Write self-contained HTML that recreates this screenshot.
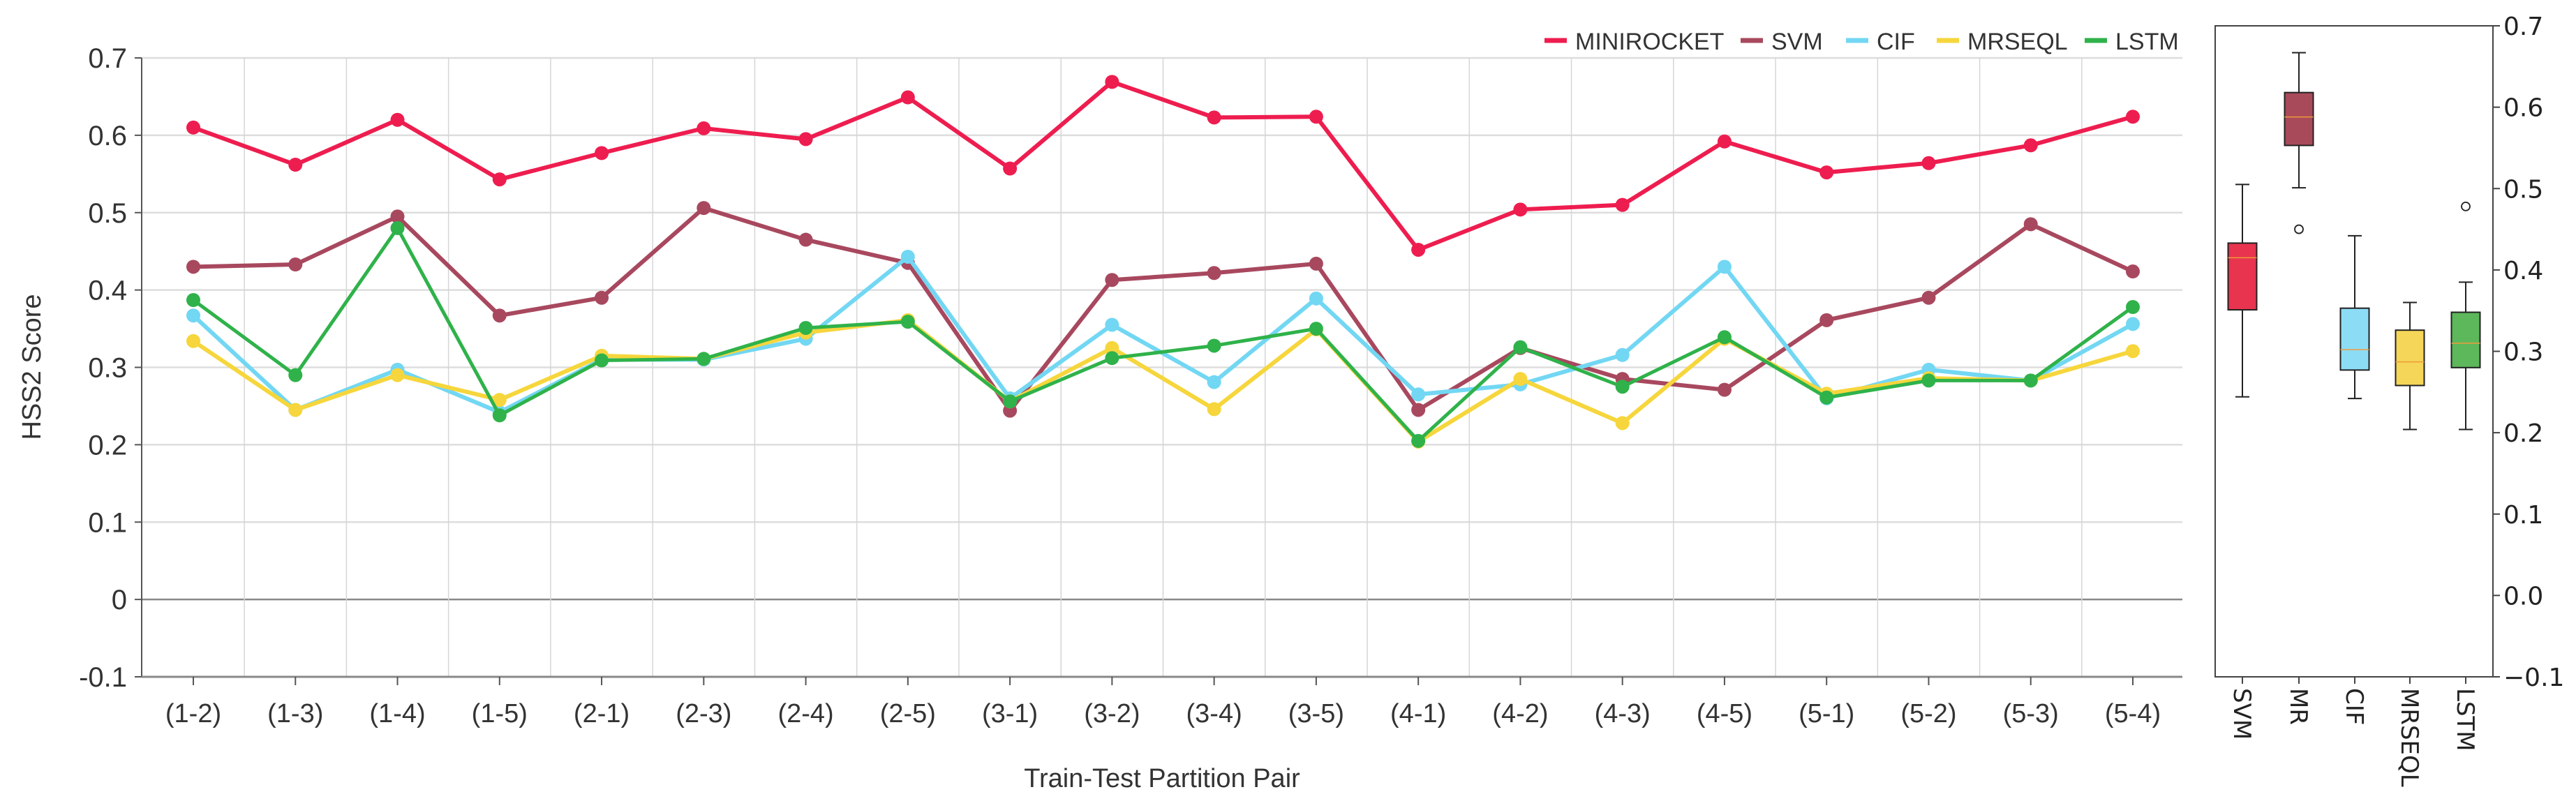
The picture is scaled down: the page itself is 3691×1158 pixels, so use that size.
<!DOCTYPE html>
<html><head><meta charset="utf-8"><style>
html,body{margin:0;padding:0;background:#fff}
svg{display:block;font-family:"Liberation Sans",sans-serif}
</style></head><body>
<svg id="c" width="3691" height="1158" viewBox="0 0 3691 1158"></svg>
<script>
const categories=["(1-2)","(1-3)","(1-4)","(1-5)","(2-1)","(2-3)","(2-4)","(2-5)","(3-1)","(3-2)","(3-4)","(3-5)","(4-1)","(4-2)","(4-3)","(4-5)","(5-1)","(5-2)","(5-3)","(5-4)"];
const miniRocket=[0.61,0.562,0.62,0.543,0.577,0.609,0.595,0.649,0.557,0.669,0.623,0.624,0.452,0.504,0.51,0.592,0.552,0.564,0.587,0.624];
const svmVals=[0.43,0.433,0.495,0.367,0.39,0.506,0.465,0.435,0.244,0.413,0.422,0.434,0.245,0.325,0.285,0.271,0.361,0.39,0.485,0.424];
const cifVals=[0.367,0.245,0.297,0.242,0.31,0.31,0.337,0.443,0.26,0.355,0.281,0.389,0.265,0.278,0.316,0.43,0.26,0.297,0.283,0.356];
const mrseqlVals=[0.334,0.245,0.29,0.258,0.315,0.311,0.345,0.361,0.256,0.325,0.246,0.349,0.204,0.285,0.228,0.337,0.266,0.286,0.283,0.321];
const lstmVals=[0.387,0.29,0.48,0.238,0.309,0.311,0.351,0.359,0.256,0.312,0.328,0.35,0.205,0.326,0.275,0.339,0.261,0.283,0.283,0.378];
const yTicks=[0.7,0.6,0.5,0.4,0.3,0.2,0.1,0,-0.1];
const yTickLabels=["0.7","0.6","0.5","0.4","0.3","0.2","0.1","0","-0.1"];
const seriesNames=["MINIROCKET","SVM","CIF","MRSEQL","LSTM"];
const seriesColors=["#ee1d4f","#a8485e","#72d7f3","#f6d63c","#2fb24a"];
const boxNames=["SVM","MR","CIF","MRSEQL","LSTM"];
const boxLow=[0.244,0.501,0.242,0.204,0.204];
const boxQ1=[0.351,0.553,0.277,0.258,0.28];
const boxMed=[0.415,0.588,0.302,0.287,0.31];
const boxQ3=[0.433,0.618,0.353,0.326,0.348];
const boxHigh=[0.505,0.667,0.442,0.36,0.385];
const boxOutliers=[[],[0.45],[],[],[0.478]];
const boxColors=["#e8344f","#a84a5a","#8ddcf6","#f5d658","#5db75b"];
const boxTicks=[0.7,0.6,0.5,0.4,0.3,0.2,0.1,0.0,-0.1];
const boxTickLabels=["0.7","0.6","0.5","0.4","0.3","0.2","0.1","0.0","\u22120.1"];

const NS="http://www.w3.org/2000/svg";
const svg=document.getElementById('c');
function mk(t,a,p){const e=document.createElementNS(NS,t);for(const k in a)e.setAttribute(k,a[k]);(p||svg).appendChild(e);return e;}
const L=203,R=3127,T=83,B=970;
const yS=v=>B-(v+0.1)/0.8*(B-T);
const x0=277,dx=(3056-277)/19;
const xS=i=>x0+i*dx;

for(let i=0;i<yTicks.length;i++){
 const y=yS(yTicks[i]);
 const g=mk('line',{x1:L,x2:R,y1:y,y2:y,stroke:yTicks[i]===0?'#888':'#ddd','stroke-width':2.5});
 
 const tk=mk('line',{x1:L-10,x2:L,y1:y,y2:y,stroke:'#555','stroke-width':2});
 
 const t=mk('text',{x:182,y:y+14,'text-anchor':'end','font-size':40,fill:'#333'});
 t.textContent=yTickLabels[i];
 
}
for(let i=1;i<categories.length;i++){
 const x=(xS(i-1)+xS(i))/2;
 const g=mk('line',{x1:x,x2:x,y1:T,y2:B,stroke:'#d6d6d6','stroke-width':1.5});
 
}
const ax=mk('line',{x1:L,x2:L,y1:T,y2:B,stroke:'#555','stroke-width':2});

const bx=mk('line',{x1:L,x2:R,y1:B,y2:B,stroke:'#888','stroke-width':3});

categories.forEach((c,i)=>{
 const tk=mk('line',{x1:xS(i),x2:xS(i),y1:B,y2:B+12,stroke:'#555','stroke-width':2});
 
 const t=mk('text',{x:xS(i),y:1035,'text-anchor':'middle','font-size':38,fill:'#333'});
 t.textContent=c;
 
});
const xt=mk('text',{x:1665,y:1128,'text-anchor':'middle','font-size':38,fill:'#333'});
xt.textContent='Train-Test Partition Pair';

const yt=mk('text',{x:0,y:0,'text-anchor':'middle','font-size':38,fill:'#333',transform:'translate(58,526) rotate(-90)'});
yt.textContent='HSS2 Score';


const allSeries=[miniRocket,svmVals,cifVals,mrseqlVals,lstmVals];
allSeries.forEach((vals,s)=>{
 const g=mk('g',{});
 
 const pl=mk('polyline',{points:vals.map((v,i)=>xS(i)+','+yS(v)).join(' '),fill:'none',stroke:seriesColors[s],'stroke-width':s===4?5:6,'stroke-linejoin':'round'},g);
 
 vals.forEach((v,i)=>{
  const p=mk('circle',{cx:xS(i),cy:yS(v),r:10,fill:seriesColors[s]},g);
  
 });
});

const legX=[2213,2494,2645,2775,2987];
seriesNames.forEach((n,i)=>{
 const g=mk('g',{});
 
 mk('line',{x1:legX[i],x2:legX[i]+32,y1:58,y2:58,stroke:seriesColors[i],'stroke-width':7},g);
 const t=mk('text',{x:legX[i]+44,y:71,'font-size':34,fill:'#333'},g);
 t.textContent=n;
});

const BL=3174,BR=3572,BT=37,BB=970;
const yB=v=>BB-(v+0.1)/0.8*(BB-BT);
const bxs=[3213,3294,3374,3453,3533],bw=41;
const frame=mk('rect',{x:BL,y:BT,width:BR-BL,height:BB-BT,fill:'none',stroke:'#444','stroke-width':2});

boxTicks.forEach((v,i)=>{
 mk('line',{x1:BR,x2:BR+10,y1:yB(v),y2:yB(v),stroke:'#444','stroke-width':2});
 const t=mk('text',{x:BR+15,y:yB(v)+13,'font-size':36,fill:'#222','font-family':'DejaVu Sans, sans-serif'});
 t.textContent=boxTickLabels[i];
 
});
boxNames.forEach((n,i)=>{
 const g=mk('g',{});
 
 const cx=bxs[i];
 mk('line',{x1:cx,x2:cx,y1:yB(boxHigh[i]),y2:yB(boxQ3[i]),stroke:'#222','stroke-width':2},g);
 mk('line',{x1:cx,x2:cx,y1:yB(boxQ1[i]),y2:yB(boxLow[i]),stroke:'#222','stroke-width':2},g);
 mk('line',{x1:cx-10,x2:cx+10,y1:yB(boxHigh[i]),y2:yB(boxHigh[i]),stroke:'#222','stroke-width':2},g);
 mk('line',{x1:cx-10,x2:cx+10,y1:yB(boxLow[i]),y2:yB(boxLow[i]),stroke:'#222','stroke-width':2},g);
 mk('rect',{x:cx-bw/2,y:yB(boxQ3[i]),width:bw,height:yB(boxQ1[i])-yB(boxQ3[i]),fill:boxColors[i],stroke:'#222','stroke-width':2},g);
 mk('line',{x1:cx-bw/2,x2:cx+bw/2,y1:yB(boxMed[i]),y2:yB(boxMed[i]),stroke:'#f09a3a','stroke-width':1.5},g);
 boxOutliers[i].forEach(o=>{mk('circle',{cx:cx,cy:yB(o),r:6,fill:'none',stroke:'#222','stroke-width':1.8},g);});
 mk('line',{x1:cx,x2:cx,y1:BB,y2:BB+10,stroke:'#444','stroke-width':2});
 const t=mk('text',{x:0,y:0,'font-size':34,fill:'#222','font-family':'DejaVu Sans, sans-serif',transform:`translate(${cx-12},${BB+16}) rotate(90)`});
 t.textContent=n;
 
});
</script>
</body></html>
